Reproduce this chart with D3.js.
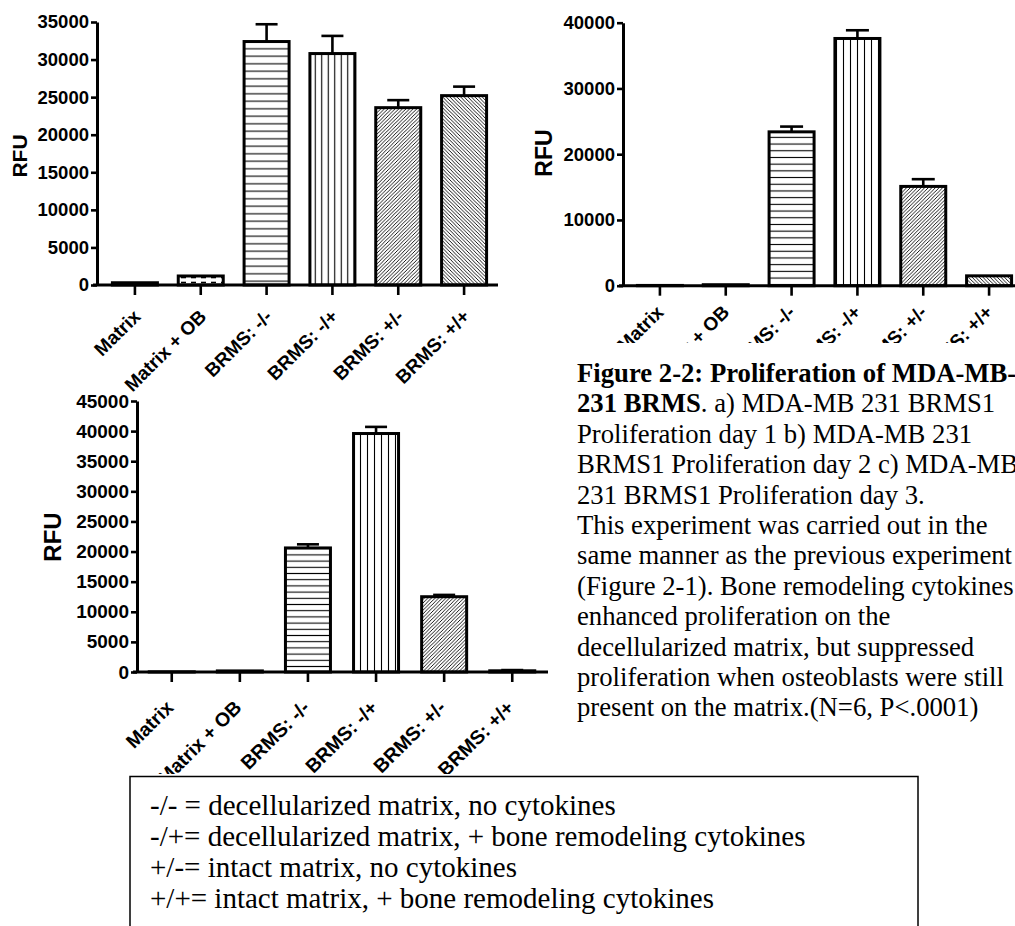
<!DOCTYPE html>
<html>
<head>
<meta charset="utf-8">
<script src="https://cdn.jsdelivr.net/npm/d3@7"></script>
<style>
  html, body { margin: 0; padding: 0; background: #fff; }
  svg { display: block; }
</style>
</head>
<body>
<svg id="fig" width="1015" height="926"></svg>
<script>
// ---------- data ----------
const categories = ["Matrix", "Matrix + OB", "BRMS: -/-", "BRMS: -/+", "BRMS: +/-", "BRMS: +/+"];
const patterns = ["solid", "dash", "hline", "vline", "diagR", "diagL"];

const day1Values = [300, 1200, 32400, 30800, 23600, 25200];
const day1Errors = [0, 0, 2300, 2350, 1000, 1200];
const day1Ticks = [0, 5000, 10000, 15000, 20000, 25000, 30000, 35000];

const day2Values = [40, 150, 23400, 37600, 15100, 1500];
const day2Errors = [0, 0, 800, 1250, 1100, 0];
const day2Ticks = [0, 10000, 20000, 30000, 40000];

const day3Values = [30, 180, 20600, 39600, 12500, 200];
const day3Errors = [0, 0, 600, 1100, 300, 120];
const day3Ticks = [0, 5000, 10000, 15000, 20000, 25000, 30000, 35000, 40000, 45000];

const yLabel = "RFU";

const captionLines = [
  [["Figure 2-2: Proliferation of MDA-MB-", true]],
  [["231 BRMS", true], [". a) MDA-MB 231 BRMS1", false]],
  [["Proliferation day 1 b) MDA-MB 231", false]],
  [["BRMS1 Proliferation day 2 c) MDA-MB", false]],
  [["231 BRMS1 Proliferation day 3.", false]],
  [["This experiment was carried out in the", false]],
  [["same manner as the previous experiment", false]],
  [["(Figure 2-1). Bone remodeling cytokines", false]],
  [["enhanced proliferation on the", false]],
  [["decellularized matrix, but suppressed", false]],
  [["proliferation when osteoblasts were still", false]],
  [["present on the matrix.(N=6, P<.0001)", false]]
];

const legendLines = [
  "-/- = decellularized matrix, no cytokines",
  "-/+= decellularized matrix, + bone remodeling cytokines",
  "+/-= intact matrix, no cytokines",
  "+/+= intact matrix, + bone remodeling cytokines"
];

// ---------- drawing ----------
const svg = d3.select("#fig");
const defs = svg.append("defs");

function makePatterns(id, hGap, vGap) {
  const ph = defs.append("pattern").attr("id", "hline" + id).attr("patternUnits", "userSpaceOnUse")
    .attr("width", 10).attr("height", hGap);
  ph.append("rect").attr("width", 10).attr("height", hGap).attr("fill", "#fff");
  ph.append("line").attr("x1", 0).attr("x2", 10).attr("y1", hGap / 2).attr("y2", hGap / 2)
    .attr("stroke", "#000").attr("stroke-width", 1.1);

  const pv = defs.append("pattern").attr("id", "vline" + id).attr("patternUnits", "userSpaceOnUse")
    .attr("width", vGap).attr("height", 10);
  pv.append("rect").attr("width", vGap).attr("height", 10).attr("fill", "#fff");
  pv.append("line").attr("y1", 0).attr("y2", 10).attr("x1", vGap / 2).attr("x2", vGap / 2)
    .attr("stroke", "#000").attr("stroke-width", 1.1);

  const s = 3.6;
  const pr = defs.append("pattern").attr("id", "diagR" + id).attr("patternUnits", "userSpaceOnUse")
    .attr("width", s).attr("height", s);
  pr.append("rect").attr("width", s).attr("height", s).attr("fill", "#fff");
  pr.append("path").attr("d", `M-1,1 L1,-1 M0,${s} L${s},0 M${s - 1},${s + 1} L${s + 1},${s - 1}`)
    .attr("stroke", "#000").attr("stroke-width", 0.9);

  const pl = defs.append("pattern").attr("id", "diagL" + id).attr("patternUnits", "userSpaceOnUse")
    .attr("width", s).attr("height", s);
  pl.append("rect").attr("width", s).attr("height", s).attr("fill", "#fff");
  pl.append("path").attr("d", `M-1,${s - 1} L1,${s + 1} M0,0 L${s},${s} M${s - 1},-1 L${s + 1},1`)
    .attr("stroke", "#000").attr("stroke-width", 0.9);

  const pd = defs.append("pattern").attr("id", "dash" + id).attr("patternUnits", "userSpaceOnUse")
    .attr("width", 10).attr("height", 5);
  pd.append("rect").attr("width", 10).attr("height", 5).attr("fill", "#fff");
  pd.append("line").attr("x1", 1).attr("x2", 6).attr("y1", 2.5).attr("y2", 2.5)
    .attr("stroke", "#000").attr("stroke-width", 1.6);

  const ps = defs.append("pattern").attr("id", "solid" + id).attr("patternUnits", "userSpaceOnUse")
    .attr("width", 4).attr("height", 4);
  ps.append("rect").attr("width", 4).attr("height", 4).attr("fill", "#000");
}

function drawChart(cfg) {
  makePatterns(cfg.id, cfg.hGap, cfg.vGap);
  const g = svg.append("g");
  if (cfg.clipY) {
    defs.append("clipPath").attr("id", "clip" + cfg.id)
      .append("rect").attr("x", 0).attr("y", 0).attr("width", 1015).attr("height", cfg.clipY);
    g.attr("clip-path", `url(#clip${cfg.id})`);
  }
  const x = d3.scaleBand().domain(cfg.categories).range(cfg.xRange).paddingInner(0).paddingOuter(0);
  const y = d3.scaleLinear().domain([0, cfg.yMax]).range([cfg.y0, cfg.yTop]);
  const bw = cfg.barW;

  const data = cfg.categories.map((c, i) => ({ c, v: cfg.values[i], e: cfg.errors[i], p: patterns[i] }));

  // error bars
  const eb = g.append("g").attr("stroke", "#000").attr("stroke-width", 2.6);
  data.filter(d => d.e > 0).forEach(d => {
    const cx = x(d.c) + x.bandwidth() / 2;
    eb.append("line").attr("x1", cx).attr("x2", cx).attr("y1", y(d.v)).attr("y2", y(d.v + d.e));
    eb.append("line").attr("x1", cx - cfg.capW / 2).attr("x2", cx + cfg.capW / 2)
      .attr("y1", y(d.v + d.e)).attr("y2", y(d.v + d.e));
  });

  // bars
  g.append("g").selectAll("rect").data(data).join("rect")
    .attr("x", d => x(d.c) + x.bandwidth() / 2 - bw / 2)
    .attr("width", bw)
    .attr("y", d => y(d.v))
    .attr("height", d => Math.max(0, y(0) - y(d.v)))
    .attr("fill", d => `url(#${d.p}${cfg.id})`)
    .attr("stroke", "#000")
    .attr("stroke-width", 3);

  // y axis
  const ya = g.append("g").attr("transform", `translate(${cfg.yAxisX},0)`)
    .call(d3.axisLeft(y).tickValues(cfg.ticks).tickSize(6).tickSizeOuter(0).tickFormat(d3.format("d")).tickPadding(2));
  ya.select(".domain").attr("stroke-width", 3).attr("stroke", "#000");
  ya.selectAll(".tick line").attr("stroke-width", 2.6);
  ya.selectAll(".tick text").attr("font-family", "Liberation Sans, Arial, sans-serif")
    .attr("font-weight", "bold").attr("font-size", cfg.fs).attr("fill", "#000");

  // x axis
  const xa = g.append("g").attr("transform", `translate(0,${cfg.y0})`)
    .call(d3.axisBottom(x).tickSize(10).tickSizeOuter(0));
  xa.select(".domain").remove();
  xa.append("line").attr("x1", cfg.yAxisX - 4).attr("x2", cfg.xAxisEnd).attr("y1", 0).attr("y2", 0)
    .attr("stroke", "#000").attr("stroke-width", 3);
  xa.selectAll(".tick line").attr("stroke-width", 2.6);
  xa.selectAll(".tick text")
    .attr("font-family", "Liberation Sans, Arial, sans-serif")
    .attr("font-weight", "bold").attr("font-size", cfg.xfs).attr("fill", "#000")
    .attr("text-anchor", "end").attr("x", 0).attr("y", 0).attr("dy", "0.35em")
    .attr("transform", `translate(${cfg.lblDx},${cfg.lblDy}) rotate(-45)`);

  // y label
  g.append("text")
    .attr("transform", `translate(${cfg.rfuX},${cfg.rfuY}) rotate(-90)`)
    .attr("text-anchor", "middle").attr("dy", "0.35em")
    .attr("font-family", "Liberation Sans, Arial, sans-serif")
    .attr("font-weight", "bold").attr("font-size", cfg.rfuFs).attr("fill", "#000")
    .text(yLabel);
}

drawChart({ id: "a", categories, values: day1Values, errors: day1Errors, ticks: day1Ticks,
  yMax: 35000, y0: 285, yTop: 22, yAxisX: 97, xRange: [102, 497], xAxisEnd: 498,
  barW: 45, capW: 22, fs: 18.5, xfs: 19, lblDx: 2, lblDy: 28, rfuX: 20, rfuY: 156, rfuFs: 21,
  hGap: 7.5, vGap: 6.5 });

drawChart({ id: "b", categories, values: day2Values, errors: day2Errors, ticks: day2Ticks,
  yMax: 40000, y0: 285.7, yTop: 22.7, yAxisX: 623, xRange: [627, 1022], xAxisEnd: 1022,
  barW: 45, capW: 23, fs: 18.5, xfs: 19, lblDx: 0, lblDy: 23, rfuX: 544, rfuY: 153, rfuFs: 23,
  hGap: 6.7, vGap: 7, clipY: 343 });

drawChart({ id: "c", categories, values: day3Values, errors: day3Errors, ticks: day3Ticks,
  yMax: 45000, y0: 672, yTop: 401, yAxisX: 137, xRange: [137.7, 546.3], xAxisEnd: 548,
  barW: 45, capW: 22, fs: 19, xfs: 19.5, lblDx: -2, lblDy: 32, rfuX: 53, rfuY: 537, rfuFs: 24,
  hGap: 6.2, vGap: 7, clipY: 774 });

// caption
const cap = svg.append("text").attr("font-family", "Liberation Serif, Times New Roman, serif")
  .attr("font-size", 26.7).attr("fill", "#000");
captionLines.forEach((line, i) => {
  const t = cap.append("tspan").attr("x", 577).attr("y", 382 + i * 30.4);
  line.forEach(([s, b], j) => {
    const sp = j === 0 ? t : cap.append("tspan");
    sp.text(s).attr("font-weight", b ? "bold" : "normal");
  });
});

// legend box
svg.append("rect").attr("x", 130).attr("y", 776.5).attr("width", 788).attr("height", 200)
  .attr("fill", "none").attr("stroke", "#000").attr("stroke-width", 1.5);
svg.append("g").selectAll("text").data(legendLines).join("text")
  .attr("x", 150).attr("y", (d, i) => 815 + i * 31)
  .attr("font-family", "Liberation Serif, Times New Roman, serif")
  .attr("font-size", 29).attr("fill", "#000")
  .text(d => d);
</script>
</body>
</html>
